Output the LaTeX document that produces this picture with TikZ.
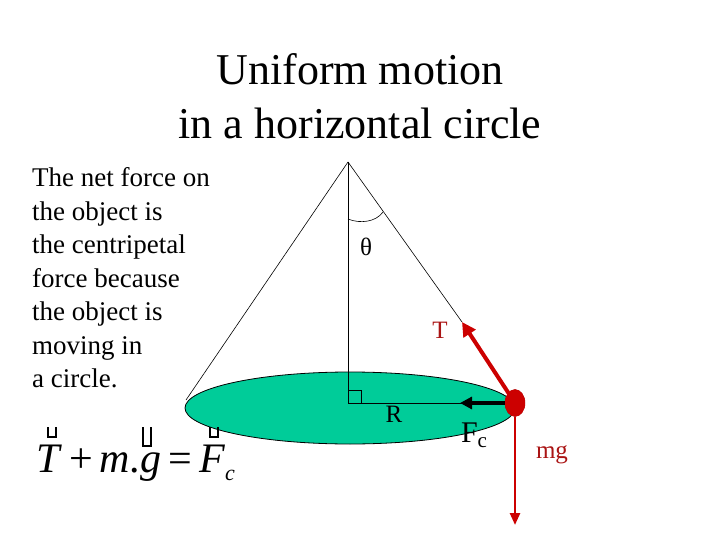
\documentclass[tikz,border=0pt]{standalone}
\usepackage{fontspec}
\setmainfont{Liberation Serif}
\usetikzlibrary{shapes.geometric,arrows.meta}
\definecolor{disk}{RGB}{0,204,153}
\definecolor{bob}{RGB}{204,0,0}
\definecolor{dred}{RGB}{170,20,20}
\begin{document}
\begin{tikzpicture}[x=1pt,y=-1pt,
  lbl/.style={inner sep=0pt,font=\fontsize{25}{27}\selectfont},
  thin line/.style={draw=black,line width=0.6pt}]
\useasboundingbox (0,0) rectangle (720,540);
% title
\node (title) at (360,96) [align=center,font=\fontsize{44}{54}\selectfont] {Uniform motion\\in a horizontal circle};
\node (body) at (32,278) [anchor=west,align=left,font=\fontsize{27}{33.5}\selectfont,inner sep=0pt] {The net force on\\the object is\\the centripetal\\force because\\the object is\\moving in\\a circle.};
% disk
\node (disk) at (350,408) [ellipse,draw=black,line width=0.8pt,fill=disk,minimum width=330,minimum height=72,inner sep=0pt] {};
\coordinate (apex) at (348,162);
\coordinate (ctr) at (348,403);
\coordinate (left) at (186,400);
\coordinate (Ttip) at (462,322);
\node (ball) at (515,403) [ellipse,fill=bob,draw=bob!80!black,minimum width=20,minimum height=27,inner sep=0pt] {};
\draw[thin line] (apex) -- (left);
\draw[thin line] (apex) -- (ctr) -- (ball.center);
\draw[thin line] (348,390) -- (361,390) -- (361,403);
\draw[thin line] (apex) -- (Ttip);
\draw[thin line] (348,219) .. controls (360,224) and (376,222) .. (383,212);
\draw[bob,line width=4pt,-{Triangle[length=14pt,width=14pt]}] (ball.center) -- (Ttip);
\draw[black,line width=4pt,-{Triangle[length=12pt,width=12pt]}] (ball.west) -- (460,403);
\draw[bob,line width=2.5pt,-{Triangle[length=12pt,width=10pt]}] (ball.south) -- (515,525);
\fill[bob] (ball) ellipse (10 and 13.5);
% labels
\node (theta) at (366,247) [lbl] {θ};
\node (T) at (440,330) [lbl,text=dred] {T};
\node (R) at (394,414) [lbl] {R};
\node (Fc) at (474,435) [lbl,font=\fontsize{30}{30}\selectfont] {F\raisebox{-5pt}{\fontsize{21}{21}\selectfont c}};
\node (mg) at (552,455) [lbl,text=dred] {mg};
% equation
\node (eq) at (36,463) [anchor=west,inner sep=0pt,font=\fontsize{42}{42}\selectfont] {\textit{T}\,+\,\textit{m.g}\,=\,\textit{F}\raisebox{-8pt}{\fontsize{22}{22}\selectfont\textit{c}}};
\draw[line width=1.2pt] (48,427) -- (48,437) -- (56,437) -- (56,427);
\draw[line width=1.2pt] (143,427) -- (143,446) -- (151,446) -- (151,427);
\draw[line width=1.2pt] (210,427) -- (210,437) -- (218,437) -- (218,427);
\end{tikzpicture}
\end{document}
